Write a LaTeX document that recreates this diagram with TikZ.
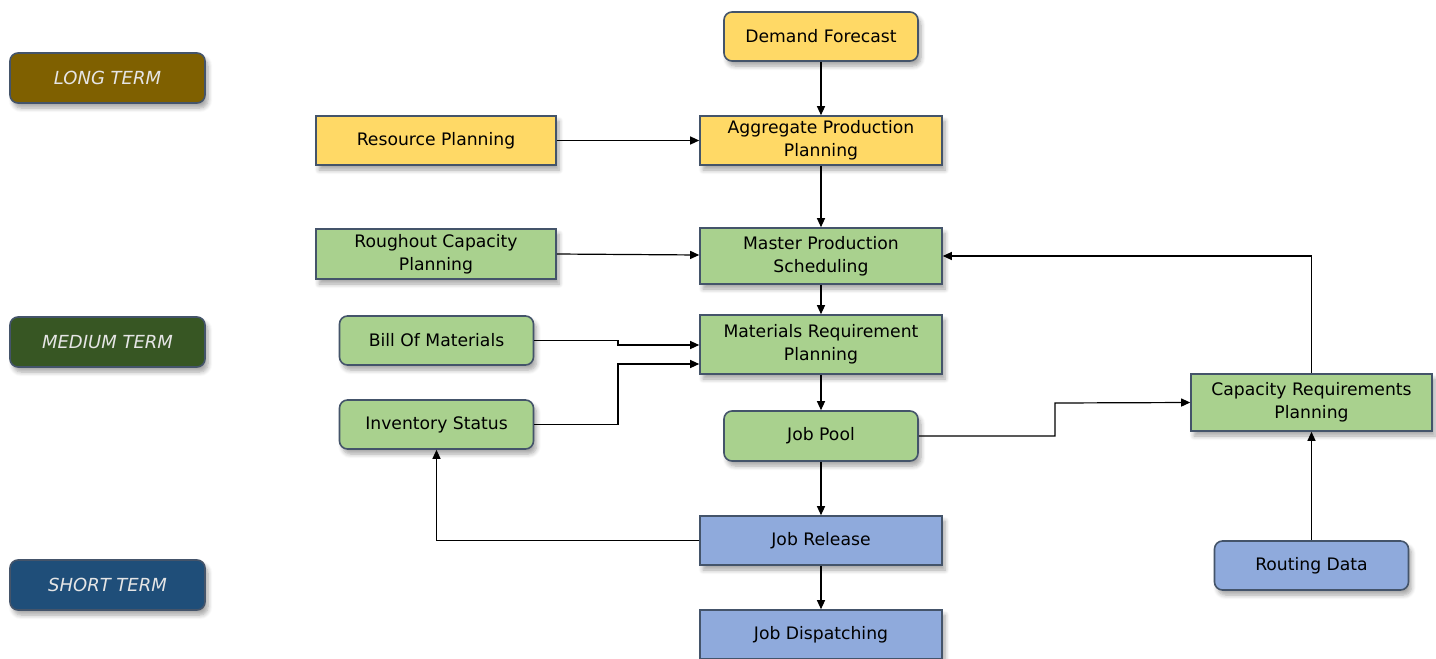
\documentclass[tikz,border=0pt]{standalone}
\usepackage{fontspec}
\setmainfont{DejaVu Sans}
\usetikzlibrary{arrows.meta,shadows.blur}
\definecolor{yellowbox}{HTML}{FFD966}
\definecolor{greenbox}{HTML}{A9D18E}
\definecolor{bluebox}{HTML}{8FAADC}
\definecolor{longterm}{HTML}{7F6000}
\definecolor{mediumterm}{HTML}{375623}
\definecolor{shortterm}{HTML}{1F4E79}
\definecolor{boxline}{HTML}{44546A}

\begin{document}
\begin{tikzpicture}[x=0.5pt,y=-0.5pt,
  box/.style={draw=boxline,line width=0.8pt,align=center,font=\fontsize{8.6}{11.5}\selectfont,
    inner sep=1pt,blur shadow={shadow blur steps=6,shadow xshift=1.5pt,shadow yshift=-2.5pt,shadow opacity=35}},
  term node/.style={box,rounded corners=4pt,minimum width=97.5pt,minimum height=25pt,
    text=white!90!black,font=\fontsize{9}{11.5}\selectfont\itshape},
  wide node/.style={box,minimum width=121pt},
  round node/.style={box,rounded corners=4pt,minimum width=97pt,minimum height=24.5pt},
  link/.style={-{Triangle[length=4.5pt,width=4pt]},line width=0.6pt,black}]

  \useasboundingbox (0,0) rectangle (1436,659);

  \node[term node,fill=longterm] (l0) at (107.5,78) {LONG TERM};
  \node[term node,fill=mediumterm] (l1) at (107.5,342) {MEDIUM TERM};
  \node[term node,fill=shortterm] (l2) at (107.5,585) {SHORT TERM};

  \node[round node,fill=yellowbox] (n0) at (821,36.5) {Demand Forecast};
  \node[wide node,fill=yellowbox,minimum height=24.5pt] (n1) at (821,140.5) {Aggregate Production\\Planning};
  \node[wide node,fill=yellowbox,minimum width=120pt,minimum height=24.5pt] (n2) at (436,140.5) {Resource Planning};
  \node[wide node,fill=greenbox,minimum width=120pt,minimum height=25pt] (n3) at (436,254) {Roughout Capacity\\Planning};
  \node[wide node,fill=greenbox,minimum height=28pt] (n4) at (821,256) {Master Production\\Scheduling};
  \node[round node,fill=greenbox] (n5) at (436.5,340.5) {Bill Of Materials};
  \node[wide node,fill=greenbox,minimum height=29.5pt] (n6) at (821,344.5) {Materials Requirement\\Planning};
  \node[round node,fill=greenbox] (n7) at (436.5,424.5) {Inventory Status};
  \node[round node,fill=greenbox,minimum height=25pt] (n8) at (821,436) {Job Pool};
  \node[wide node,fill=greenbox,minimum width=120.5pt,minimum height=28.5pt] (n9) at (1311.5,402.5) {Capacity Requirements\\Planning};
  \node[wide node,fill=bluebox,minimum height=24.5pt] (n10) at (821,540.5) {Job Release};
  \node[wide node,fill=bluebox,minimum height=24.5pt] (n11) at (821,634.5) {Job Dispatching};
  \node[round node,fill=bluebox] (n12) at (1311.5,565.5) {Routing Data};

  \path (n0) [link] edge (n1);
  \path (n2) [link] edge (n1);
  \path (n1) [link] edge (n4);
  \path (n3.east) [link] edge (n4.west |- 0,255);
  \path (n4) [link] edge (n6);
  \draw[link] (n5.east) -- (618,340.5) -- (618,345) -- (n6.west |- 0,345);
  \draw[link] (n7.east) -- (618,424.5) -- (618,364) -- (n6.west |- 0,364);
  \path (n6) [link] edge (n8);
  \draw[link] (n8.east) -- (1055,436) -- (1055,403) -- (n9.west);
  \draw[link] (n9.north) |- (n4.east |- 0,256);
  \path (n8) [link] edge (n10);
  \draw[link] (n10.west) -| (n7.south);
  \path (n10) [link] edge (n11);
  \path (n12) [link] edge (n9);
\end{tikzpicture}
\end{document}
